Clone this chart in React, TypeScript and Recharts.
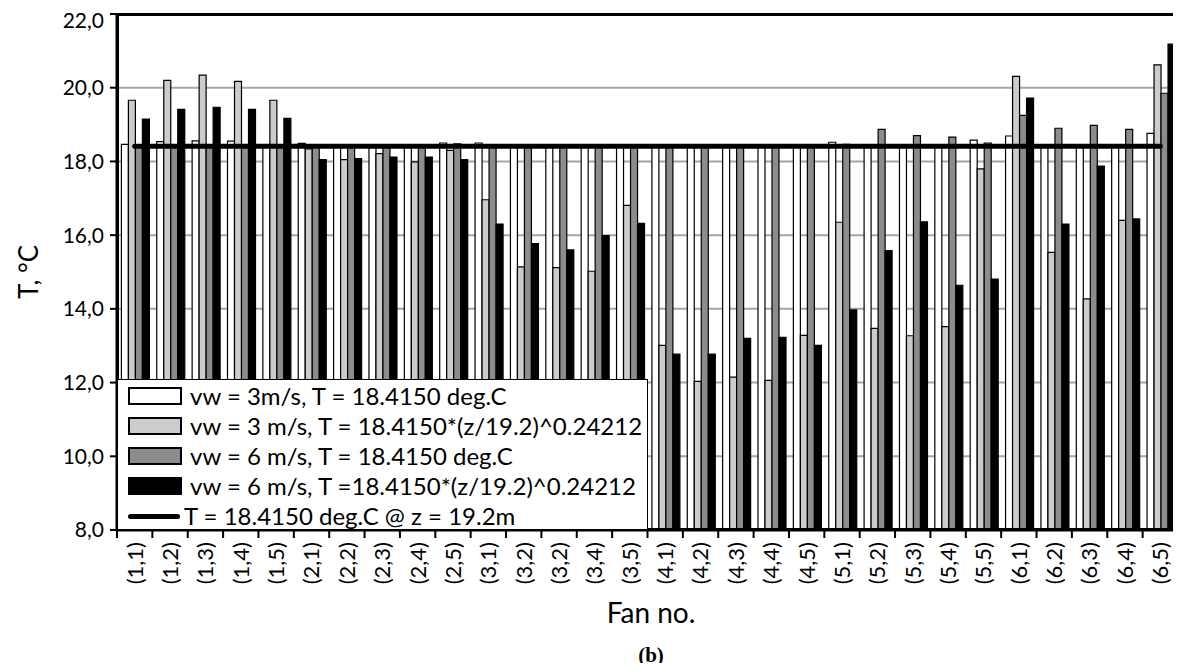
import React from 'react';
import { ComposedChart, Bar, Line, XAxis, YAxis, CartesianGrid } from 'recharts';

const fans = [
  '(1,1)', '(1,2)', '(1,3)', '(1,4)', '(1,5)',
  '(2,1)', '(2,2)', '(2,3)', '(2,4)', '(2,5)',
  '(3,1)', '(3,2)', '(3,2)', '(3,4)', '(3,5)',
  '(4,1)', '(4,2)', '(4,3)', '(4,4)', '(4,5)',
  '(5,1)', '(5,2)', '(5,3)', '(5,4)', '(5,5)',
  '(6,1)', '(6,2)', '(6,3)', '(6,4)', '(6,5)',
];

// vw = 3 m/s, uniform T
const vw3Const = [
  18.46, 18.54, 18.56, 18.55, 18.42, 18.49, 18.42, 18.42, 18.42, 18.5,
  18.5, 18.43, 18.43, 18.42, 18.42, 18.42, 18.42, 18.42, 18.42, 18.42,
  18.52, 18.42, 18.42, 18.42, 18.58, 18.69, 18.42, 18.42, 18.42, 18.76,
];
// vw = 3 m/s, T profile
const vw3Profile = [
  19.66, 20.2, 20.34, 20.17, 19.66, 18.34, 18.05, 18.21, 17.99, 18.3,
  16.96, 15.14, 15.12, 15.02, 16.81, 13.01, 12.03, 12.15, 12.06, 13.28,
  16.35, 13.47, 13.27, 13.52, 17.8, 20.31, 15.53, 14.27, 16.4, 20.62,
];
// vw = 6 m/s, uniform T
const vw6Const = [
  18.42, 18.42, 18.42, 18.42, 18.42, 18.42, 18.45, 18.42, 18.42, 18.48,
  18.42, 18.42, 18.42, 18.42, 18.42, 18.42, 18.42, 18.42, 18.42, 18.42,
  18.46, 18.87, 18.7, 18.66, 18.5, 19.25, 18.9, 18.98, 18.87, 19.85,
];
// vw = 6 m/s, T profile
const vw6Profile = [
  19.15, 19.41, 19.47, 19.41, 19.17, 18.05, 18.08, 18.12, 18.12, 18.05,
  16.3, 15.77, 15.6, 15.99, 16.32, 12.77, 12.77, 13.2, 13.23, 13.01,
  13.97, 15.58, 16.36, 14.64, 14.81, 19.72, 16.3, 17.87, 16.44, 21.18,
];
// reference temperature at z = 19.2 m
const refT = [
  18.415, 18.415, 18.415, 18.415, 18.415, 18.415, 18.415, 18.415, 18.415, 18.415,
  18.415, 18.415, 18.415, 18.415, 18.415, 18.415, 18.415, 18.415, 18.415, 18.415,
  18.415, 18.415, 18.415, 18.415, 18.415, 18.415, 18.415, 18.415, 18.415, 18.415,
];

const yTicks = [8, 10, 12, 14, 16, 18, 20, 22];

const legendItems = [
  { label: 'vw = 3m/s, T = 18.4150 deg.C', fill: '#ffffff' },
  { label: 'vw = 3 m/s, T = 18.4150*(z/19.2)^0.24212', fill: '#cccccc' },
  { label: 'vw = 6 m/s, T = 18.4150 deg.C', fill: '#8c8c8c' },
  { label: 'vw = 6 m/s, T =18.4150*(z/19.2)^0.24212', fill: '#000000' },
];

const rows = fans.map((f, i) => ({
  idx: i,
  a: vw3Const[i],
  b: vw3Profile[i],
  c: vw6Const[i],
  d: vw6Profile[i],
  tref: refT[i],
}));

const FONT = 'Lato, "Open Sans", sans-serif';
const W = 1173;
const H = 655;
const M = { top: 6, right: 3, left: 40, bottom: 73 };
const Y_W = 69;
const PLOT_W = W - M.left - Y_W - M.right;
const BAND = PLOT_W / fans.length;

function FanTick(props: any) {
  const { x, y, payload, index } = props;
  const axisY = y - 8;
  const left = x - BAND / 2;
  const ty = y + 4;
  return (
    <g>
      <line x1={left} y1={axisY} x2={left} y2={axisY + 8} stroke="#000" strokeWidth={2} />
      {index === fans.length - 1 && (
        <line x1={x + BAND / 2} y1={axisY} x2={x + BAND / 2} y2={axisY + 8} stroke="#000" strokeWidth={2} />
      )}
      <text
        x={x}
        y={ty}
        transform={`rotate(-90, ${x}, ${ty})`}
        textAnchor="end"
        dy="0.36em"
        fontSize={22}
        fontFamily={FONT}
        fill="#000"
      >
        {fans[payload.value]}
      </text>
    </g>
  );
}

export default function App() {
  return (
    <div style={{ position: 'relative', width: W, height: H, fontFamily: FONT, color: '#000' }}>
      <ComposedChart
        width={W}
        height={H}
        data={rows}
        margin={M}
        barCategoryGap={4.4}
        barGap={0}
      >
        <CartesianGrid vertical={false} stroke="#a6a6a6" strokeWidth={2} />
        <XAxis
          dataKey="idx"
          type="category"
          interval={0}
          height={60}
          tickLine={false}
          tickSize={8}
          tickMargin={0}
          tick={<FanTick />}
          axisLine={{ stroke: '#000', strokeWidth: 3 }}
        />
        <YAxis
          type="number"
          domain={[8, 22]}
          ticks={yTicks}
          width={Y_W}
          tickSize={7}
          tickMargin={6}
          tickLine={{ stroke: '#000', strokeWidth: 2 }}
          axisLine={{ stroke: '#000', strokeWidth: 3 }}
          tickFormatter={(v: number) => v.toFixed(1).replace('.', ',')}
          tick={{ fontSize: 21, fill: '#000', fontFamily: FONT }}
        />
        <Bar dataKey="a" fill="#ffffff" stroke="#000" strokeWidth={1.2} isAnimationActive={false} />
        <Bar dataKey="b" fill="#cccccc" stroke="#000" strokeWidth={1.2} isAnimationActive={false} />
        <Bar dataKey="c" fill="#8c8c8c" stroke="#000" strokeWidth={1.2} isAnimationActive={false} />
        <Bar dataKey="d" fill="#000000" stroke="#000" strokeWidth={1.2} isAnimationActive={false} />
        <Line
          dataKey="tref"
          type="linear"
          stroke="#000"
          strokeWidth={5}
          strokeLinecap="round"
          dot={false}
          isAnimationActive={false}
        />
      </ComposedChart>

      {/* plot frame (top and right edges) */}
      <div
        style={{
          position: 'absolute',
          left: 108,
          top: 5,
          width: 1063,
          height: 518,
          border: '3px solid #000',
          boxSizing: 'border-box',
          pointerEvents: 'none',
        }}
      />

      {/* legend */}
      <div
        style={{
          position: 'absolute',
          left: 109,
          top: 371,
          width: 531,
          height: 151,
          background: '#fff',
          border: '1.5px solid #000',
          boxSizing: 'border-box',
        }}
      >
        {legendItems.map((it, i) => (
          <div key={i} style={{ position: 'absolute', left: 10, top: 7 + i * 30, height: 18, display: 'flex', alignItems: 'center' }}>
            <div style={{ width: 50, height: 14, background: it.fill, border: '2px solid #000' }} />
            <span style={{ marginLeft: 8, fontSize: 24, lineHeight: '18px', whiteSpace: 'nowrap' }}>{it.label}</span>
          </div>
        ))}
        <div style={{ position: 'absolute', left: 10, top: 127, height: 18, display: 'flex', alignItems: 'center' }}>
          <div style={{ width: 52, height: 5, background: '#000', borderRadius: 3 }} />
          <span style={{ marginLeft: 4, fontSize: 24, lineHeight: '18px', whiteSpace: 'nowrap' }}>T = 18.4150 deg.C @ z = 19.2m</span>
        </div>
      </div>

      <div
        style={{
          position: 'absolute',
          left: 20,
          top: 264,
          transform: 'translate(-50%, -50%) rotate(-90deg)',
          fontSize: 26,
          whiteSpace: 'nowrap',
        }}
      >
        T, °C
      </div>
      <div
        style={{
          position: 'absolute',
          left: 643,
          top: 604,
          transform: 'translate(-50%, -50%)',
          fontSize: 28,
          whiteSpace: 'nowrap',
        }}
      >
        Fan no.
      </div>
      <div
        style={{
          position: 'absolute',
          left: 643,
          top: 647,
          transform: 'translate(-50%, -50%)',
          fontSize: 21,
          fontWeight: 'bold',
          fontFamily: '"Liberation Serif", serif',
          whiteSpace: 'nowrap',
        }}
      >
        (b)
      </div>
    </div>
  );
}
